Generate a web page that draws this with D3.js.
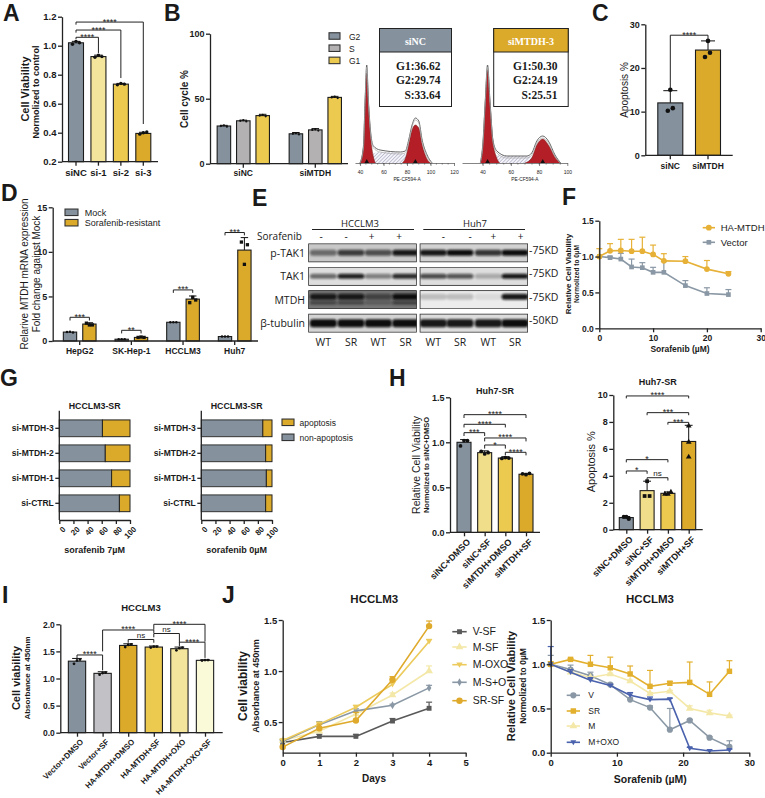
<!DOCTYPE html>
<html>
<head>
<meta charset="UTF-8">
<title>MTDH figure</title>
<style type="text/css">
	html, body { margin: 0; padding: 0; background: #fff; overflow: hidden; }
	svg { display: block; }
	text { font-family: "Liberation Sans", Arial, sans-serif; fill: #1a1a1a; }
	.blotText { font-family: "Open Sans", "Noto Sans", sans-serif; }
	.flowText { font-family: "Liberation Serif", serif; font-weight: bold; }
</style>
<script type="text/javascript" src="https://cdn.jsdelivr.net/npm/d3@7"></script>
</head>
<body>
<div id="div_main"></div>

<script type="text/javascript">

	var GRAY = "#85929e", LIGHTGRAY = "#b3b1b1", PALE = "#f3e59c", YELLOW = "#ecc94f", GOLD = "#dcaa2a", CREAM = "#fafad8", SILVER = "#c2c1c6", DARK = "#595959", BLUE = "#4a62ad";

	// A
	var aCats = ["siNC", "si-1", "si-2", "si-3"];
	var aMeans = [1.02, 0.925, 0.735, 0.395];
	var aErrs = [0.01, 0.01, 0.005, 0.008];
	var aDots = [[1.01, 1.03, 1.02], [0.92, 0.935, 0.925], [0.73, 0.74, 0.735], [0.39, 0.40, 0.405]];

	// B
	var bGroups = ["siNC", "siMTDH"];
	var bSeries = ["G2", "S", "G1"];
	var bValues = [[29, 33, 37], [23, 26, 51]];
	var bErrs = [[0.5, 0.5, 1], [1, 1, 0.8]];
	var flowTicks1 = [40, 60, 80, 100, 120];
	var flowTicks2 = [40, 60, 80, 100];
	var flow1X = [40, 42.9, 44.3, 45.7, 47.1, 49.1, 51.4, 57.1, 74.3, 78.6, 81.4, 84.3, 87.1, 90, 92.9, 97.1, 101.4];
	var flow1Y = [0, 17, 63, 98, 63, 30, 17, 13, 11, 12, 23, 38, 45, 42, 23, 8, 0];
	var flow1G1X = [40, 42.9, 44.3, 45.7, 47.1, 49.1, 51.4, 53];
	var flow1G1Y = [0, 15, 60, 90, 60, 25, 6, 0];
	var flow1G2X = [76, 79, 81.4, 84.3, 87.1, 90, 92.9, 97, 100];
	var flow1G2Y = [0, 6, 18, 33, 38, 35, 18, 4, 0];
	var flow1SX = [48, 52, 57, 74, 80, 84];
	var flow1SY = [0, 10, 11, 10, 8, 0];
	var flow2X = [38.4, 40.2, 41.9, 43.5, 45.2, 47.3, 50.1, 57.2, 71.3, 74.8, 78.4, 82.6, 86.6, 91.3, 95.3];
	var flow2Y = [0, 20, 63, 98, 63, 23, 12, 7, 7, 10, 22, 27, 22, 8, 0];
	var flow2G1X = [38.4, 40.2, 41.9, 43.5, 45.2, 47.3, 50, 52];
	var flow2G1Y = [0, 17, 60, 93, 60, 22, 5, 0];
	var flow2G2X = [70, 74.8, 78.4, 82.6, 86.6, 91.3, 95];
	var flow2G2Y = [0, 5, 18, 24, 18, 6, 0];
	var flow2SX = [46, 50, 57.2, 71.3, 76, 80];
	var flow2SY = [0, 8, 7, 7, 6, 0];
	var flowText1 = ["G1:36.62", "G2:29.74", "S:33.64"];
	var flowText2 = ["G1:50.30", "G2:24.19", "S:25.51"];

	// C
	var cCats = ["siNC", "siMTDH"];
	var cMeans = [12, 24.1];
	var cErrs = [2.8, 2.1];
	var cDots = [[10.2, 10.8, 15], [22.5, 23.5, 26.2]];

	// D
	var dCats = ["HepG2", "SK-Hep-1", "HCCLM3", "Huh7"];
	var dMock = [1, 0.2, 2.1, 0.5];
	var dResistant = [1.9, 0.4, 4.7, 10.2];
	var dMockDots = [[1, 1.05, 0.95], [0.2, 0.2, 0.2], [2.1, 2.1, 2.1], [0.5, 0.5, 0.5]];
	var dResDots = [[2, 1.8, 1.8], [0.4, 0.45, 0.4], [4.3, 4.9, 4.6], [11.1, 8.6, 10.8]];
	var dResErrs = [0.15, 0.05, 0.35, 1.4];

	// E
	var lanes = ["WT", "SR", "WT", "SR"];
	var signs = ["-", "-", "+", "+"];
	var blotRows = ["p-TAK1", "TAK1", "MTDH", "β-tubulin"];
	var blotSizes = ["-75KD", "-75KD", "-75KD", "-50KD"];
	var blotLeft = [[0.5, 0.75, 0.65, 0.95], [0.55, 0.9, 0.45, 0.85], [0.9, 0.9, 0.5, 1], [1, 1, 1, 1]];
	var blotRight = [[0.95, 1, 0.8, 1], [0.7, 0.65, 0.25, 0.95], [0.2, 0.2, 0.08, 0.95], [0.95, 0.95, 0.95, 1]];
	var blotBackLeft = ["#c8c8c8", "#dedede", "#777777", "#d4d4d4"];
	var blotBackRight = ["#d2d2d2", "#dedede", "#ececec", "#dddddd"];

	// F
	var fConc = [0, 2, 4, 6, 8, 10, 12, 16, 20, 24];
	var fHa = [1, 1.08, 1.085, 1.075, 1.075, 1.03, 0.94, 0.935, 0.825, 0.76];
	var fHaErr = [0.11, 0.1, 0.155, 0.165, 0.195, 0.13, 0.1, 0.065, 0.12, 0.03];
	var fVector = [1, 0.985, 0.965, 0.855, 0.845, 0.78, 0.78, 0.595, 0.485, 0.47];
	var fVectorErr = [0, 0.02, 0.08, 0.11, 0.07, 0.07, 0.15, 0.07, 0.08, 0.07];

	// G
	var gCats = ["si-MTDH-3", "si-MTDH-2", "si-MTDH-1", "si-CTRL"];
	var g7uM = [61, 65, 74, 85];
	var g0uM = [87, 91, 92, 91];
	var gTicks = [0, 20, 40, 60, 80, 100];

	// H
	var hCats = ["siNC+DMSO", "siNC+SF", "siMTDH+DMSO", "siMTDH+SF"];
	var hViab = [1, 0.885, 0.825, 0.645];
	var hViabErr = [0.03, 0.02, 0.015, 0.01];
	var hViabDots = [[0.96, 1.02, 1.02], [0.9, 0.87, 0.885], [0.82, 0.83, 0.825], [0.65, 0.64, 0.655]];
	var hApop = [0.9, 2.9, 2.7, 6.55];
	var hApopErr = [0.08, 0.7, 0.1, 1.2];
	var hApopDots = [[0.95, 0.8, 0.95], [2.5, 2.5, 3.6], [2.8, 2.65, 2.65], [5.4, 6.5, 7.7]];

	// I
	var iCats = ["Vector+DMSO", "Vector+SF", "HA-MTDH+DMSO", "HA-MTDH+SF", "HA-MTDH+OXO", "HA-MTDH+OXO+SF"];
	var iMeans = [1.32, 1.095, 1.61, 1.58, 1.55, 1.335];
	var iErrs = [0.05, 0.03, 0.03, 0.02, 0.03, 0.01];
	var iDots = [[1.27, 1.33, 1.35], [1.07, 1.1, 1.11], [1.58, 1.62, 1.63], [1.57, 1.59, 1.59], [1.52, 1.56, 1.57], [1.33, 1.34, 1.34]];

	// J left
	var jDays = [0, 1, 2, 3, 4];
	var jVsf = [0.3, 0.36, 0.36, 0.51, 0.635];
	var jVsfErr = [0.03, 0.02, 0.02, 0.025, 0.06];
	var jMsf = [0.32, 0.41, 0.58, 0.765, 1];
	var jMsfErr = [0.01, 0.02, 0.02, 0.02, 0.05];
	var jMoxo = [0.32, 0.48, 0.645, 0.87, 1.29];
	var jMoxoErr = [0.01, 0.02, 0.02, 0.05, 0.02];
	var jMso = [0.31, 0.475, 0.61, 0.665, 0.835];
	var jMsoErr = [0.01, 0.03, 0.02, 0.01, 0.025];
	var jSrsf = [0.255, 0.44, 0.515, 0.915, 1.44];
	var jSrsfErr = [0.01, 0.04, 0.08, 0.03, 0.05];

	// J right
	var kConc = [0, 3, 6, 9, 12, 15, 18, 21, 24, 27];
	var kV = [1, 0.94, 0.87, 0.77, 0.6, 0.51, 0.26, 0.365, 0.17, 0.065];
	var kVErr = [0.1, 0.05, 0.04, 0.01, 0.02, 0.02, 0.24, 0.01, 0.01, 0.07];
	var kSr = [1, 1.055, 1, 0.96, 0.89, 0.75, 0.785, 0.795, 0.66, 0.92];
	var kSrErr = [0.03, 0.01, 0.1, 0.12, 0.09, 0.18, 0.02, 0.23, 0.14, 0.12];
	var kM = [1, 0.91, 0.85, 0.89, 0.81, 0.67, 0.695, 0.5, 0.45, 0.415];
	var kMErr = [0.01, 0.01, 0.01, 0.01, 0.01, 0.01, 0.01, 0.03, 0.03, 0.01];
	var kOxo = [1, 0.91, 0.82, 0.76, 0.65, 0.6, 0.605, 0.05, 0.02, 0.03];
	var kOxoErr = [0.2, 0.03, 0.03, 0.01, 0.03, 0.03, 0.01, 0.01, 0.01, 0.01];


	var svg = d3.select("#div_main").append("svg")
		.attr("width", 765)
		.attr("height", 798);

	var defs = svg.append("defs");
	defs.append("filter").attr("id", "blur").attr("x", "-20%").attr("y", "-80%").attr("width", "140%").attr("height", "260%")
		.append("feGaussianBlur").attr("stdDeviation", 1.2);
	var hatch = defs.append("pattern").attr("id", "hatch").attr("width", 2.5).attr("height", 2.5)
		.attr("patternUnits", "userSpaceOnUse").attr("patternTransform", "rotate(45)");
	hatch.append("rect").attr("width", 2.5).attr("height", 2.5).attr("fill", "#f4f4fa");
	hatch.append("line").attr("x1", 0).attr("y1", 0).attr("x2", 0).attr("y2", 2.5).attr("stroke", "#6a6a90").attr("stroke-width", 0.7);

	function label(x, y, str, size, weight, anchor, rotate) {
		var t = svg.append("text")
			.attr("x", x)
			.attr("y", y)
			.attr("font-size", size)
			.attr("font-weight", weight || "normal")
			.attr("text-anchor", anchor || "middle")
			.text(str);
		if (rotate) t.attr("transform", "rotate(" + rotate + "," + x + "," + y + ")");
		return t;
	}

	function styleAxis(g, size) {
		g.selectAll("path, line").attr("stroke", "#222").attr("stroke-width", 1.3);
		g.selectAll("text").attr("font-size", size).attr("font-weight", "bold").attr("fill", "#1a1a1a");
	}

	function axisLeft(x, scale, ticks, format, size) {
		var g = svg.append("g").attr("transform", "translate(" + x + ",0)")
			.call(d3.axisLeft(scale).tickValues(ticks).tickSize(4).tickPadding(1.5).tickSizeOuter(0).tickFormat(format));
		styleAxis(g, size);
		return g;
	}

	function axisBottom(y, scale, ticks, format, size, tilt) {
		var ax = d3.axisBottom(scale).tickSize(4).tickSizeOuter(0);
		if (ticks) ax.tickValues(ticks);
		if (format) ax.tickFormat(format);
		var g = svg.append("g").attr("transform", "translate(0," + y + ")").call(ax);
		styleAxis(g, size);
		if (tilt) {
			g.selectAll("text").attr("text-anchor", "end").attr("dx", "-0.3em").attr("dy", "0.55em")
				.attr("transform", "rotate(-45)");
		}
		return g;
	}

	// bars drawn one by one, x is the bar centre
	function bars(xs, y, values, errs, dots, fills, width, shape, dotSize, spread) {
		var base = y.range()[0];
		var g = svg.append("g");
		values.forEach(function (v, i) {
			if (errs && errs[i]) {
				g.append("line").attr("x1", xs[i]).attr("x2", xs[i]).attr("y1", y(v)).attr("y2", y(v + errs[i]))
					.attr("stroke", "#111").attr("stroke-width", 1);
				g.append("line").attr("x1", xs[i] - width * 0.28).attr("x2", xs[i] + width * 0.28).attr("y1", y(v + errs[i])).attr("y2", y(v + errs[i]))
					.attr("stroke", "#111").attr("stroke-width", 1);
			}
			g.append("rect")
				.attr("x", xs[i] - width / 2).attr("y", y(v))
				.attr("width", width).attr("height", base - y(v))
				.attr("fill", fills[i]).attr("stroke", "#1c1c1c").attr("stroke-width", 1.1);
			if (dots) dots[i].forEach(function (d, j) {
				g.append("path")
					.attr("d", d3.symbol().type(shape || d3.symbolCircle).size(dotSize || 9))
					.attr("transform", "translate(" + (xs[i] + (j - 1) * (spread || 3)) + "," + y(d) + ")")
					.attr("fill", "#111");
			});
		});
	}

	// significance bracket, y in data units, legs in data units too
	function bracket(x0, x1, y, top, left, right, text, size) {
		svg.append("path")
			.attr("d", "M" + x0 + "," + y(left) + "V" + y(top) + "H" + x1 + "V" + y(right))
			.attr("fill", "none").attr("stroke", "#222").attr("stroke-width", 1);
		var t = label((x0 + x1) / 2, y(top) + (text == "ns" ? -1.5 : 2.5), text, text == "ns" ? 8 : (size || 9), "normal");
		if (text == "ns") t.attr("fill", "#444");
	}

	function swatch(x, y, w, h, fill) {
		svg.append("rect").attr("x", x).attr("y", y - h / 2).attr("width", w).attr("height", h)
			.attr("fill", fill).attr("stroke", "#333").attr("stroke-width", 1.1);
	}

	function series(x, y, xs, vals, errs, color, shape, size, width) {
		var g = svg.append("g");
		xs.forEach(function (d, i) {
			if (!errs || !errs[i]) return;
			g.append("line").attr("x1", x(d)).attr("x2", x(d)).attr("y1", y(vals[i])).attr("y2", y(vals[i] + errs[i]))
				.attr("stroke", color).attr("stroke-width", 1.2);
			g.append("line").attr("x1", x(d) - 3).attr("x2", x(d) + 3).attr("y1", y(vals[i] + errs[i])).attr("y2", y(vals[i] + errs[i]))
				.attr("stroke", color).attr("stroke-width", 1.2);
		});
		g.append("path")
			.attr("d", d3.line().x(function (d) { return x(d[0]); }).y(function (d) { return y(d[1]); })(d3.zip(xs, vals)))
			.attr("fill", "none").attr("stroke", color).attr("stroke-width", width || 1.6);
		g.selectAll("path.mark").data(d3.zip(xs, vals)).enter().append("path")
			.attr("class", "mark")
			.attr("d", d3.symbol().type(shape).size(size))
			.attr("transform", function (d) { return "translate(" + x(d[0]) + "," + y(d[1]) + ")"; })
			.attr("fill", color);
	}

	function lineKey(x0, x1, y, text, color, shape, size, textX, fontSize) {
		svg.append("line").attr("x1", x0).attr("x2", x1).attr("y1", y).attr("y2", y).attr("stroke", color).attr("stroke-width", 1.6);
		svg.append("path").attr("d", d3.symbol().type(shape).size(size))
			.attr("transform", "translate(" + ((x0 + x1) / 2) + "," + y + ")").attr("fill", color);
		label(textX, y + fontSize * 0.35, text, fontSize, "normal", "start").attr("fill", "#333");
	}

	var fmt1 = d3.format(".1f");
	var fmt0 = d3.format("d");
	var triDown = { draw: function (c, s) { var a = Math.sqrt(s) * 0.62; c.moveTo(-a, -a * 0.7); c.lineTo(a, -a * 0.7); c.lineTo(0, a); c.closePath(); } };

	// panel letters
	[["A", 3, 21], ["B", 164, 21], ["C", 592, 21], ["D", 1, 201], ["E", 252, 206], ["F", 562, 205], ["G", 0, 386], ["H", 389, 386], ["I", 2, 603], ["J", 222, 603]]
		.forEach(function (d) { label(d[1], d[2], d[0], 23, "bold", "start"); });


	/* ---------- A ---------- */
	var aX = d3.scalePoint().domain(aCats).range([76, 143.3]);
	var aY = d3.scaleLinear().domain([0.2, 1.2]).range([161.7, 16.7]);
	var aXs = aCats.map(function (d) { return aX(d); });
	bars(aXs, aY, aMeans, aErrs, aDots, [GRAY, PALE, YELLOW, GOLD], 15, null, 9, 3.5);
	axisLeft(62, aY, [0.2, 0.4, 0.6, 0.8, 1.0, 1.2], fmt1, 9.5);
	svg.append("path").attr("d", "M62,161.7H158").attr("stroke", "#222").attr("stroke-width", 1.3);
	aCats.forEach(function (d) {
		svg.append("line").attr("x1", aX(d)).attr("x2", aX(d)).attr("y1", 161.7).attr("y2", 165.7).attr("stroke", "#222").attr("stroke-width", 1.3);
		label(aX(d), 176, d, 9.5, "bold");
	});
	bracket(aXs[0], aXs[1], aY, 1.058, 1.045, 0.95, "****");
	bracket(aXs[0], aXs[2], aY, 1.108, 1.09, 0.777, "****");
	bracket(aXs[0], aXs[3], aY, 1.163, 1.145, 0.46, "****");
	label(25, 89, "Cell Viability", 11, "bold", "middle", -90).attr("dy", "0.35em");
	label(36, 92, "Normolized to control", 9, "bold", "middle", -90).attr("dy", "0.35em");


	/* ---------- B bars ---------- */
	var bGroup = d3.scalePoint().domain(bGroups).range([243.3, 315.3]);
	var bInner = d3.scalePoint().domain(bSeries).range([-19.4, 19.4]);
	var bY = d3.scaleLinear().domain([0, 100]).range([163.7, 33.7]);
	var bFills = { G2: GRAY, S: LIGHTGRAY, G1: YELLOW };
	bGroups.forEach(function (g, gi) {
		bars(bSeries.map(function (s) { return bGroup(g) + bInner(s); }), bY, bValues[gi], bErrs[gi],
			bValues[gi].map(function (v) { return [v, v + 0.5, v - 0.5]; }),
			bSeries.map(function (s) { return bFills[s]; }), 13.5, null, 4, 3);
	});
	axisLeft(210, bY, [0, 50, 100], fmt0, 9);
	var bAxisX = d3.scalePoint().domain(bGroups).range([243.3, 315.3]);
	svg.append("path").attr("d", "M210,163.7H348").attr("stroke", "#222").attr("stroke-width", 1.3);
	bGroups.forEach(function (d) {
		svg.append("line").attr("x1", bAxisX(d)).attr("x2", bAxisX(d)).attr("y1", 163.7).attr("y2", 167.7).attr("stroke", "#222").attr("stroke-width", 1.3);
		label(bAxisX(d), 176, d, 8.5, "bold");
	});
	label(184, 99, "Cell cycle %", 10, "bold", "middle", -90).attr("dy", "0.35em");
	["G2", "S", "G1"].forEach(function (d, i) {
		swatch(329, 36 + i * 12.2, 11, 6.5, bFills[d]);
		label(349, 39.5 + i * 12.2, d, 8.5, "normal", "start").attr("fill", "#444");
	});


	/* ---------- B flow histograms ---------- */
	function flow(domain, rangeX, ticks, all, g1, g2, s, axisEnd) {
		var x = d3.scaleLinear().domain(domain).range(rangeX);
		var y = d3.scaleLinear().domain([0, 100]).range([163, 63]);
		var area = d3.area().curve(d3.curveMonotoneX).x(function (d) { return x(d[0]); }).y0(y(0)).y1(function (d) { return y(d[1]); });
		var line = d3.line().curve(d3.curveMonotoneX).x(function (d) { return x(d[0]); }).y(function (d) { return y(d[1]); });
		svg.append("path").attr("d", area(s)).attr("fill", "url(#hatch)");
		svg.append("path").attr("d", area(g1)).attr("fill", "#b41f27");
		svg.append("path").attr("d", area(g2)).attr("fill", "#b41f27");
		svg.append("path").attr("d", line(g1)).attr("fill", "none").attr("stroke", "#70201f").attr("stroke-width", 0.5);
		svg.append("path").attr("d", line(g2)).attr("fill", "none").attr("stroke", "#70201f").attr("stroke-width", 0.5);
		svg.append("path").attr("d", line(all)).attr("fill", "none").attr("stroke", "#555").attr("stroke-width", 0.9);
		svg.append("path").attr("d", line(all.map(function (d) { return [d[0], Math.max(0, d[1] - 2)]; }))).attr("fill", "none").attr("stroke", "#aaa").attr("stroke-width", 0.7);
		var g = svg.append("g").attr("transform", "translate(0,163)")
			.call(d3.axisBottom(x).tickValues(ticks).tickSize(3).tickSizeOuter(0).tickFormat(fmt0));
		g.selectAll("path, line").attr("stroke", "#333").attr("stroke-width", 0.6);
		g.selectAll("text").attr("font-size", 5).attr("fill", "#333").attr("dy", "0.9em");
		var minor = svg.append("g").attr("transform", "translate(0,163)");
		d3.range(ticks[0], domain[1], 5).forEach(function (t) {
			minor.append("line").attr("x1", x(t)).attr("x2", x(t)).attr("y1", 0).attr("y2", 1.8).attr("stroke", "#333").attr("stroke-width", 0.4);
		});
		[g1, g2].forEach(function (p) {
			var top = p.reduce(function (a, b) { return b[1] > a[1] ? b : a; });
			svg.append("path").attr("d", d3.symbol().type(d3.symbolTriangle).size(9))
				.attr("transform", "translate(" + x(top[0]) + ",161.6)").attr("fill", "#111");
		});
		label((x(ticks[0]) + x(ticks[ticks.length - 1])) / 2, 180.5, "PE-CF594-A", 4.8, "normal").attr("fill", "#333");
	}
	flow([35.7, 120], [355, 454], flowTicks1, d3.zip(flow1X, flow1Y), d3.zip(flow1G1X, flow1G1Y), d3.zip(flow1G2X, flow1G2Y), d3.zip(flow1SX, flow1SY));
	flow([25.4, 100], [462, 567.3], flowTicks2, d3.zip(flow2X, flow2Y), d3.zip(flow2G1X, flow2G1Y), d3.zip(flow2G2X, flow2G2Y), d3.zip(flow2SX, flow2SY));

	function flowBox(x, w, head, fill, lines, textRight) {
		svg.append("rect").attr("x", x).attr("y", 28.5).attr("width", w).attr("height", 78).attr("fill", "#fff").attr("stroke", "#222").attr("stroke-width", 1);
		svg.append("rect").attr("x", x).attr("y", 28.5).attr("width", w).attr("height", 23.5).attr("fill", fill).attr("stroke", "#222").attr("stroke-width", 1);
		label(x + w / 2, 45, head, 10, "bold").attr("class", "flowText").attr("fill", "#fff").style("fill", "#fff");
		lines.forEach(function (d, i) {
			label(textRight, 69.5 + i * 14.8, d, 11.5, "bold", "end").attr("class", "flowText");
		});
	}
	flowBox(379.5, 72, "siNC", GRAY, flowText1, 440.5);
	flowBox(493.7, 74.5, "siMTDH-3", GOLD, flowText2, 557.5);


	/* ---------- C ---------- */
	var cX = d3.scalePoint().domain(cCats).range([670.3, 708]);
	var cY = d3.scaleLinear().domain([0, 30]).range([155.3, 24.3]);
	var cXs = cCats.map(function (d) { return cX(d); });
	bars(cXs, cY, cMeans, cErrs, null, [GRAY, GOLD], 25);
	axisLeft(645.3, cY, [0, 10, 20, 30], fmt0, 9);
	svg.append("path").attr("d", "M645.3,155.3H732.7").attr("stroke", "#222").attr("stroke-width", 1.3);
	cCats.forEach(function (d, i) {
		svg.append("line").attr("x1", cX(d)).attr("x2", cX(d)).attr("y1", 155.3).attr("y2", 159.3).attr("stroke", "#222").attr("stroke-width", 1.3);
		label(cX(d), 168.5, d, 8.5, "bold");
		cDots[i].forEach(function (v, j) {
			var off = i == 0 ? [-2.5, 2.5, 0][j] : [-3, 2, 0][j];
			svg.append("circle").attr("cx", cX(d) + off).attr("cy", cY(v)).attr("r", 2.3).attr("fill", "#111");
		});
	});
	bracket(cXs[0], cXs[1], cY, 27.5, 15.3, 26.5, "****");
	label(624, 90, "Apoptosis %", 10, "normal", "middle", -90).attr("dy", "0.35em");


	/* ---------- D ---------- */
	var dGroup = d3.scalePoint().domain(dCats).range([79.7, 234.7]);
	var dY = d3.scaleLinear().domain([0, 15]).range([341, 207.3]);
	var dFill = d3.scaleOrdinal().domain(["Mock", "Sorafenib-resistant"]).range([GRAY, GOLD]);
	bars(dCats.map(function (d) { return dGroup(d) - 9.7; }), dY, dMock, null, dMockDots, dCats.map(function () { return dFill("Mock"); }), 13.3, d3.symbolCircle, 5, 3);
	bars(dCats.map(function (d) { return dGroup(d) + 9.7; }), dY, dResistant, dResErrs, dResDots, dCats.map(function () { return dFill("Sorafenib-resistant"); }), 13.3, d3.symbolSquare, 11, 3);
	axisLeft(52.7, dY, [0, 5, 10, 15], fmt0, 9);
	svg.append("path").attr("d", "M52.7,341H258").attr("stroke", "#222").attr("stroke-width", 1.3);
	dCats.forEach(function (d, i) {
		svg.append("line").attr("x1", dGroup(d)).attr("x2", dGroup(d)).attr("y1", 341).attr("y2", 345).attr("stroke", "#222").attr("stroke-width", 1.3);
		label(dGroup(d), 354, d, 8.5, "bold");
	});
	[[2.66, 2.3, 2.3, "***"], [1.2, 0.85, 0.85, "**"], [5.73, 5.4, 5.4, "***"], [12.17, 11.85, 11.85, "***"]].forEach(function (b, i) {
		bracket(dGroup(dCats[i]) - 9.7, dGroup(dCats[i]) + 9.7, dY, b[0], b[1], b[2], b[3]);
	});
	label(24, 274, "Relarive MTDH mRNA expression", 10, "normal", "middle", -90).attr("dy", "0.35em");
	label(36, 274, "Fold change against Mock", 10, "normal", "middle", -90).attr("dy", "0.35em");
	swatch(65, 212.3, 13, 6.5, GRAY);
	swatch(65, 222.7, 13, 6.5, GOLD);
	label(84.7, 215.7, "Mock", 9, "normal", "start").attr("fill", "#333");
	label(84.7, 226, "Sorafenib-resistant", 9, "normal", "start").attr("fill", "#333");


	/* ---------- E blots ---------- */
	var rowY = d3.scaleBand().domain(blotRows).range([243, 333]).paddingInner(0.2).paddingOuter(0.02);
	function blot(x0, x1, laneX, strength, back, idx) {
		var clip = "clip" + idx;
		blotRows.forEach(function (r, i) {
			var id = clip + i;
			defs.append("clipPath").attr("id", id).append("rect")
				.attr("x", x0).attr("y", rowY(r)).attr("width", x1 - x0).attr("height", rowY.bandwidth());
			var g = svg.append("g").attr("clip-path", "url(#" + id + ")");
			g.append("rect").attr("x", x0).attr("y", rowY(r)).attr("width", x1 - x0).attr("height", rowY.bandwidth()).attr("fill", back[i]);
			var mid = rowY(r) + rowY.bandwidth() / 2;
			strength[i].forEach(function (v, j) {
				var h = r == "β-tubulin" ? 8 : (r == "TAK1" ? 5 : 6);
				g.append("rect")
					.attr("x", laneX[j] - 13.5).attr("y", mid - h / 2 - (r == "MTDH" ? 3 : 0))
					.attr("width", 27).attr("height", h).attr("rx", 3)
					.attr("fill", "#0b0b0b").attr("opacity", v)
					.attr("filter", "url(#blur)");
				if (r == "MTDH" && idx == "L") {
					g.append("rect").attr("x", laneX[j] - 13.5).attr("y", mid + 1).attr("width", 27).attr("height", 4).attr("rx", 2)
						.attr("fill", "#1a1a1a").attr("opacity", v * 0.6).attr("filter", "url(#blur)");
				}
			});
			g.append("rect").attr("x", x0).attr("y", rowY(r)).attr("width", x1 - x0).attr("height", rowY.bandwidth())
				.attr("fill", "none").attr("stroke", "#222").attr("stroke-width", 1.4);
		});
	}
	var leftLane = [323.3, 351, 378.3, 405.7];
	var rightLane = [433.3, 460, 488.3, 515];
	blot(308.3, 416.7, leftLane, blotLeft, blotBackLeft, "L");
	blot(419.7, 528, rightLane, blotRight, blotBackRight, "R");
	blotRows.forEach(function (r, i) {
		var mid = rowY(r) + rowY.bandwidth() / 2;
		label(305, mid + 3.8, r, 10.5, "normal", "end").attr("class", "blotText");
		label(529, mid + 1, blotSizes[i], 10.5, "normal", "start").attr("class", "blotText");
	});
	label(360, 227, "HCCLM3", 9.5, "normal").attr("class", "blotText");
	label(475, 227, "Huh7", 9.5, "normal").attr("class", "blotText");
	svg.append("path").attr("d", "M312,229.5H414M423.3,229.5H525").attr("stroke", "#222").attr("stroke-width", 1);
	label(257, 240, "Sorafenib", 10, "normal", "start").attr("class", "blotText");
	var signLeft = [321, 346, 371.7, 399];
	var signRight = [443.3, 470, 493.3, 520.7];
	signs.forEach(function (s, i) {
		label(signLeft[i], 240, s, 10, "normal").attr("class", "blotText");
		label(signRight[i], 240, s, 10, "normal").attr("class", "blotText");
	});
	lanes.forEach(function (s, i) {
		label(leftLane[i], 346, s, 10.5, "normal").attr("class", "blotText");
		label(rightLane[i], 346, s, 10.5, "normal").attr("class", "blotText");
	});


	/* ---------- F ---------- */
	var fX = d3.scaleLinear().domain([0, 30]).range([599.3, 760.7]);
	var fY = d3.scaleLinear().domain([0, 1.5]).range([328.3, 220.7]);
	series(fX, fY, fConc, fVector, fVectorErr, "#8a98a5", d3.symbolSquare, 22);
	series(fX, fY, fConc, fHa, fHaErr, "#e6b136", d3.symbolCircle, 26);
	axisLeft(599.3, fY, [0, 0.5, 1.0, 1.5], fmt1, 8.5);
	axisBottom(328.3, fX, [0, 10, 20, 30], fmt0, 8.5);
	lineKey(702.7, 715, 227.7, "HA-MTDH", "#e6b136", d3.symbolCircle, 26, 720.7, 9.5);
	lineKey(702.7, 715, 242.3, "Vector", "#8a98a5", d3.symbolSquare, 22, 720.7, 9.5);
	label(680, 352, "Sorafenib (µM)", 8.5, "bold");
	label(568, 274, "Relative Cell Viability", 8, "bold", "middle", -90).attr("dy", "0.35em");
	label(577, 274, "Normolized to 0µM", 6.5, "bold", "middle", -90).attr("dy", "0.35em");


	/* ---------- G ---------- */
	function stacked(x0, x1, values, title, xlabel) {
		var x = d3.scaleLinear().domain([0, 100]).range([x0, x1]);
		var y = d3.scaleBand().domain(gCats).range([415.8, 515.8]).paddingInner(0.33).paddingOuter(0.165);
		gCats.forEach(function (c, i) {
			svg.append("rect").attr("x", x(0)).attr("y", y(c)).attr("width", x(values[i]) - x(0)).attr("height", y.bandwidth())
				.attr("fill", GRAY).attr("stroke", "#333").attr("stroke-width", 1);
			svg.append("rect").attr("x", x(values[i])).attr("y", y(c)).attr("width", x(100) - x(values[i])).attr("height", y.bandwidth())
				.attr("fill", GOLD).attr("stroke", "#222").attr("stroke-width", 1);
		});
		var ya = svg.append("g").attr("transform", "translate(" + x0 + ",0)")
			.call(d3.axisLeft(y).tickSize(4).tickPadding(1.5).tickSizeOuter(0));
		styleAxis(ya, 8.5);
		ya.select("path").attr("d", "M0,410.7V520");
		var xa = axisBottom(520, x, gTicks, fmt0, 8, true);
		label((x0 + x1) / 2, 553, xlabel, 9, "bold");
		label((x0 + x1) / 2, 409, title, 8.8, "bold");
	}
	stacked(59.3, 130, g7uM, "HCCLM3-SR", "sorafenib 7µM");
	stacked(201.3, 272, g0uM, "HCCLM3-SR", "sorafenib 0µM");
	swatch(282, 422.3, 12, 6.5, GOLD);
	swatch(282, 437.3, 12, 6.5, GRAY);
	label(299.5, 425.5, "apoptosis", 8.5, "normal", "start").attr("fill", "#444");
	label(299.5, 440.5, "non-apoptosis", 8.5, "normal", "start").attr("fill", "#444");


	/* ---------- H ---------- */
	var hFills = [GRAY, "#f1de8b", YELLOW, GOLD];
	var hX1 = d3.scalePoint().domain(hCats).range([464, 526]);
	var hY1 = d3.scaleLinear().domain([0, 1.5]).range([532.3, 397.3]);
	var hXs1 = hCats.map(function (d) { return hX1(d); });
	bars(hXs1, hY1, hViab, hViabErr, hViabDots, hFills, 14, null, 11, 3.5);
	axisLeft(450, hY1, [0, 0.5, 1.0, 1.5], fmt1, 9);
	var h1 = axisBottom(532.3, hX1, null, null, 9, true);
	h1.select("path").attr("d", "M450,0H540");
	bracket(hXs1[0], hXs1[3], hY1, 1.307, 1.27, 1.27, "****");
	bracket(hXs1[0], hXs1[2], hY1, 1.2, 1.165, 1.165, "****");
	bracket(hXs1[0], hXs1[1], hY1, 1.107, 1.07, 1.07, "***");
	bracket(hXs1[1], hXs1[3], hY1, 1.048, 1.01, 1.01, "****");
	bracket(hXs1[1], hXs1[2], hY1, 0.97, 0.93, 0.93, "*");
	bracket(hXs1[2], hXs1[3], hY1, 0.889, 0.855, 0.855, "****");
	label(495, 394, "Huh7-SR", 9, "bold");
	label(416.7, 465, "Relative Cell Viability", 10.5, "normal", "middle", -90).attr("dy", "0.35em");
	label(426.7, 465, "Normolized to siNC+DMSO", 7.5, "bold", "middle", -90).attr("dy", "0.35em");

	var hX2 = d3.scalePoint().domain(hCats).range([626.3, 688.7]);
	var hY2 = d3.scaleLinear().domain([0, 10]).range([529.7, 395]);
	var hXs2 = hCats.map(function (d) { return hX2(d); });
	bars(hXs2, hY2, hApop, hApopErr, null, hFills, 14);
	hXs2.forEach(function (x, i) {
		var off = [[-2.5, 2.5, 0], [-2.5, 2.5, 0], [3, -3, 0], [0, 0, 0]][i];
		var shape = [d3.symbolCircle, d3.symbolSquare, d3.symbolTriangle, d3.symbolTriangle][i];
		hApopDots[i].forEach(function (v, j) {
			svg.append("path").attr("d", d3.symbol().type(shape).size(14))
				.attr("transform", "translate(" + (x + off[j]) + "," + hY2(v) + ")").attr("fill", "#111");
		});
	});
	axisLeft(613.3, hY2, [0, 2, 4, 6, 8, 10], fmt0, 9);
	var h2 = axisBottom(529.7, hX2, null, null, 9, true);
	h2.select("path").attr("d", "M613.3,0H702.7");
	bracket(hXs2[0], hXs2[3], hY2, 9.93, 9.75, 9.75, "****");
	bracket(hXs2[1], hXs2[3], hY2, 8.69, 8.5, 8.5, "***");
	bracket(hXs2[2], hXs2[3], hY2, 7.97, 7.8, 7.8, "***");
	bracket(hXs2[0], hXs2[2], hY2, 5.2, 5, 5, "*");
	bracket(hXs2[0], hXs2[1], hY2, 4.36, 4.15, 4.15, "*");
	bracket(hXs2[1], hXs2[2], hY2, 3.86, 3.65, 3.65, "ns");
	label(657.7, 385, "Huh7-SR", 9, "bold");
	label(590.7, 461.7, "Apoptosis %", 11, "normal", "middle", -90).attr("dy", "0.35em");


	/* ---------- I ---------- */
	var iX = d3.scalePoint().domain(iCats).range([77, 205]);
	var iY = d3.scaleLinear().domain([0, 2]).range([732.7, 624.3]);
	var iXs = iCats.map(function (d) { return iX(d); });
	bars(iXs, iY, iMeans, iErrs, iDots, [GRAY, SILVER, GOLD, YELLOW, "#f3e59c", CREAM], 17.3, null, 6, 3);
	axisLeft(60.3, iY, [0, 0.5, 1.0, 1.5, 2.0], fmt1, 8.5);
	var ia = axisBottom(732.7, iX, null, null, 8, true);
	ia.select("path").attr("d", "M60.3,0H222.7");
	bracket(iXs[0], iXs[1], iY, 1.434, 1.37, 1.15, "****");
	bracket(iXs[1], iXs[3], iY, 1.895, 1.5, 1.84, "****");
	bracket(iXs[2], iXs[3], iY, 1.72, 1.66, 1.66, "ns");
	bracket(iXs[3], iXs[4], iY, 1.83, 1.76, 1.66, "ns");
	bracket(iXs[3], iXs[5], iY, 2.0, 1.9, 1.68, "****");
	bracket(iXs[4], iXs[5], iY, 1.67, 1.6, 1.38, "****");
	label(141, 611, "HCCLM3", 9.5, "bold");
	label(15.7, 678, "Cell viability", 11, "bold", "middle", -90).attr("dy", "0.35em");
	label(27, 678, "Absorbance at 450nm", 8, "bold", "middle", -90).attr("dy", "0.35em");


	/* ---------- J left ---------- */
	var jX = d3.scaleLinear().domain([0, 5]).range([282.7, 465.7]);
	var jY = d3.scaleLinear().domain([0.2, 1.5]).range([752.7, 620]);
	series(jX, jY, jDays, jVsf, jVsfErr, DARK, d3.symbolSquare, 24);
	series(jX, jY, jDays, jMsf, jMsfErr, "#f4e8a8", d3.symbolTriangle, 26);
	series(jX, jY, jDays, jMso, jMsoErr, "#8a98a5", d3.symbolDiamond, 18);
	series(jX, jY, jDays, jMoxo, jMoxoErr, "#eccb5c", triDown, 26);
	series(jX, jY, jDays, jSrsf, jSrsfErr, "#dfaa2c", d3.symbolCircle, 32);
	axisLeft(282.7, jY, [0.5, 1.0, 1.5], fmt1, 9.5);
	axisBottom(752.7, jX, [0, 1, 2, 3, 4, 5], fmt0, 9.5);
	lineKey(452.3, 466.7, 631.7, "V-SF", DARK, d3.symbolSquare, 24, 472.7, 10.5);
	lineKey(452.3, 466.7, 647, "M-SF", "#f4e8a8", d3.symbolTriangle, 26, 472.7, 10.5);
	lineKey(452.3, 466.7, 664.7, "M-OXO", "#eccb5c", triDown, 26, 472.7, 10.5);
	lineKey(452.3, 466.7, 682.3, "M-S+O", "#8a98a5", d3.symbolDiamond, 18, 472.7, 10.5);
	lineKey(452.3, 466.7, 700.7, "SR-SF", "#dfaa2c", d3.symbolCircle, 32, 472.7, 10.5);
	label(374.3, 603, "HCCLM3", 11.5, "bold");
	label(374, 782, "Days", 10, "bold");
	label(243, 686, "Cell viability", 12, "bold", "middle", -90).attr("dy", "0.35em");
	label(255.7, 686, "Absorbance at 450nm", 9, "bold", "middle", -90).attr("dy", "0.35em");


	/* ---------- J right ---------- */
	var kX = d3.scaleLinear().domain([0, 30]).range([550.7, 749.3]);
	var kY = d3.scaleLinear().domain([0, 1.5]).range([752.7, 620]);
	series(kX, kY, kConc, kV, kVErr, "#8a98a5", d3.symbolCircle, 30);
	series(kX, kY, kConc, kM, kMErr, "#f4e8a8", d3.symbolTriangle, 26);
	series(kX, kY, kConc, kSr, kSrErr, "#e3b02e", d3.symbolSquare, 30);
	series(kX, kY, kConc, kOxo, kOxoErr, BLUE, triDown, 22);
	axisLeft(550.7, kY, [0, 0.5, 1.0, 1.5], fmt1, 9.5);
	axisBottom(752.7, kX, [0, 10, 20, 30], fmt0, 9.5);
	lineKey(566.7, 580, 695.3, "V", "#8a98a5", d3.symbolCircle, 30, 588.3, 8.5);
	lineKey(566.7, 580, 711, "SR", "#e3b02e", d3.symbolSquare, 30, 588.3, 8.5);
	lineKey(566.7, 580, 726, "M", "#f4e8a8", d3.symbolTriangle, 26, 588.3, 8.5);
	lineKey(566.7, 580, 742.3, "M+OXO", BLUE, triDown, 22, 588.3, 8.5);
	label(650, 603, "HCCLM3", 11.5, "bold");
	label(650.3, 783, "Sorafenib (µM)", 10.5, "bold");
	label(511, 686, "Relative Cell Viability", 11, "bold", "middle", -90).attr("dy", "0.35em");
	label(522.7, 686, "Normolized to 0µM", 8.5, "bold", "middle", -90).attr("dy", "0.35em");

</script>
</body>
</html>
